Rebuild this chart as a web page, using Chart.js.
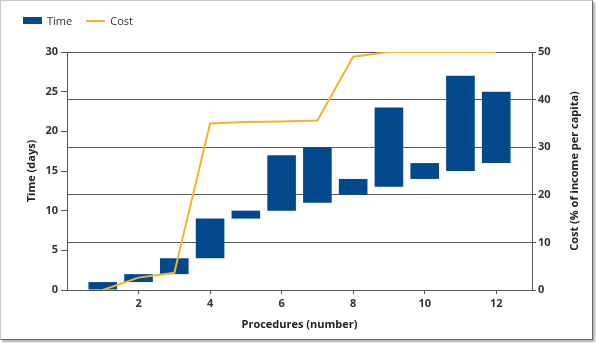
<!DOCTYPE html>
<html>
<head>
<meta charset="utf-8">
<script src="https://cdn.jsdelivr.net/npm/chart.js@4.4.1/dist/chart.umd.min.js"></script>
<style>
  html, body { margin: 0; padding: 0; background: #fff; }
  .wrap { position: relative; width: 596px; height: 343px; overflow: hidden; font-family: "Open Sans", "DejaVu Sans", sans-serif; }
  .wrap canvas { position: absolute; left: 0; top: 0; }
  .frame { position: absolute; left: 0; top: 0; width: 591px; height: 338px; border: 1px solid #c9c9c9; border-right-color: #6a6a6a; border-bottom-color: #6a6a6a; box-shadow: 2px 2px 2px #b0b0b0; pointer-events: none; }
  .legend { position: absolute; left: 23px; top: 13px; font-size: 11px; color: #333; display: flex; align-items: center; }
  .legend .sw { display: inline-block; width: 19px; margin-right: 5px; }
  .legend .bar { height: 7px; background: #02488d; }
  .legend .line { height: 2px; background: #f2b32a; }
  .legend span.lbl { margin-right: 14px; }
</style>
</head>
<body>
<div class="wrap">
  <canvas id="chart" width="596" height="343"></canvas>
  <div class="legend">
    <i class="sw bar"></i><span class="lbl">Time</span>
    <i class="sw line"></i><span class="lbl">Cost</span>
  </div>
  <div class="frame"></div>
</div>
<script>
const procedures = [1, 2, 3, 4, 5, 6, 7, 8, 9, 10, 11, 12];
const timeStart = [0, 1, 2, 4, 9, 10, 11, 12, 13, 14, 15, 16];
const timeEnd = [1, 2, 4, 9, 10, 17, 18, 14, 23, 16, 27, 25];
const cost = [0, 2.6, 3.6, 35, 35.3, 35.4, 35.6, 49, 50, 50, 50, 50];

const axisColor = "#555";
const tickFont = { family: "Open Sans, DejaVu Sans, sans-serif", size: 11, weight: "bold" };

// y-axis titles drawn by hand so both read bottom-to-top
const axisTitles = {
  id: "axisTitles",
  afterDraw(chart) {
    const { ctx, chartArea } = chart;
    const midY = (chartArea.top + chartArea.bottom) / 2;
    ctx.save();
    ctx.fillStyle = "#222";
    ctx.font = "bold 11px 'Open Sans', 'DejaVu Sans', sans-serif";
    ctx.textAlign = "center";
    ctx.textBaseline = "middle";
    [[32, "Time (days)"], [575, "Cost (% of income per capita)"]].forEach(([x, text]) => {
      ctx.save();
      ctx.translate(x, midY);
      ctx.rotate(-Math.PI / 2);
      ctx.fillText(text, 0, 0);
      ctx.restore();
    });
    ctx.fillText("Procedures (number)", (chartArea.left + chartArea.right) / 2, 325);
    ctx.restore();
  }
};

new Chart(document.getElementById("chart"), {
  data: {
    datasets: [
      {
        type: "line",
        label: "Cost",
        data: procedures.map((p, i) => ({ x: p, y: cost[i] })),
        yAxisID: "y1",
        borderColor: "#f2b32a",
        borderWidth: 2,
        pointRadius: 0,
        tension: 0,
        order: 0
      },
      {
        type: "bar",
        label: "Time",
        data: procedures.map((p, i) => ({ x: p, y: [timeStart[i], timeEnd[i]] })),
        yAxisID: "y",
        backgroundColor: "#02488d",
        borderWidth: 0,
        barPercentage: 1,
        categoryPercentage: 0.8,
        order: 1
      }
    ]
  },
  options: {
    responsive: false,
    animation: false,
    layout: { padding: { top: 52, right: 0, bottom: 0, left: 0 } },
    plugins: { legend: { display: false }, tooltip: { enabled: false } },
    scales: {
      x: {
        type: "linear",
        min: 0,
        max: 13,
        offset: false,
        afterFit: (s) => { s.height = 53; },
        afterBuildTicks: (s) => { s.ticks = s.ticks.filter((t) => t.value > 0 && t.value % 2 === 0); },
        ticks: { stepSize: 2, color: "#333", font: tickFont, padding: 3, maxRotation: 0 },
        grid: { drawOnChartArea: false, offset: false, color: axisColor, tickLength: 4 },
        border: { color: axisColor }
      },
      y: {
        position: "left",
        min: 0,
        max: 30,
        afterFit: (s) => { s.width = 67; },
        ticks: { stepSize: 5, color: "#333", font: tickFont, padding: 3 },
        grid: { drawOnChartArea: false, color: axisColor, tickLength: 6 },
        border: { color: axisColor }
      },
      y1: {
        position: "right",
        min: 0,
        max: 50,
        afterFit: (s) => { s.width = 64; },
        ticks: { stepSize: 10, color: "#333", font: tickFont, padding: 2 },
        grid: { drawOnChartArea: true, color: "#5a5a5a", tickLength: 4 },
        border: { color: axisColor }
      }
    }
  },
  plugins: [axisTitles]
});
</script>
</body>
</html>
